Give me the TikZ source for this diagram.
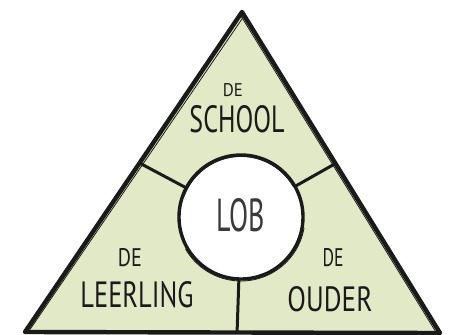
\documentclass[tikz,border=0pt]{standalone}
\usepackage{fontspec}
\setsansfont{PT Sans}
\usepackage{graphicx}
\usetikzlibrary{calc}
\definecolor{trifill}{HTML}{E2E9C6}
\definecolor{ink}{HTML}{1A1A1A}
\definecolor{lobink}{HTML}{3A3A3A}
\tikzset{
  outline/.style={draw=ink, line width=4.4pt, line join=round, line cap=round},
  sketch/.style={draw=ink, line width=0.8pt, line cap=round},
  spoke/.style={draw=ink, line width=3pt, line cap=round},
  label/.style={inner sep=0pt, text=ink, font=\sffamily},
}
\newcommand{\fitword}[3]{\resizebox{#1pt}{#2pt}{#3}}
\begin{document}
\begin{tikzpicture}[x=1pt, y=-1pt]
\useasboundingbox (0,0) rectangle (456,335);
\coordinate (A) at (242,12);
\coordinate (B) at (25,332);
\coordinate (C) at (440,333);
% triangle
\fill[trifill] (A) -- (B) -- (C) -- cycle;
\draw[outline] (A) -- (B) -- (C) -- cycle;
% sketchy second strokes
\draw[sketch] ($(A)+(2,4)$) -- ($(B)+(5,-2.5)$);
\draw[sketch] ($(A)+(-1,4)$) -- ($(C)+(-5,-2.5)$);
% spoke end points
\coordinate (pl) at ($(A)!0.472!(B)$);
\coordinate (pr) at ($(A)!0.472!(C)$);
\coordinate (pb) at ($(B)!0.511!(C)$);
% circle
\node[circle, minimum size=124pt, inner sep=0pt, fill=white, draw=ink, line width=3.4pt] (lob) at (241,217) {};
\draw[sketch] (241,217) ++(10:64) arc[start angle=10, end angle=150, radius=64];
\draw[sketch] (241,217) ++(200:60.5) arc[start angle=200, end angle=330, radius=60.5];
% spokes
\draw[spoke] (lob) -- (pl);
\draw[spoke] (lob) -- (pr);
\draw[spoke] (lob) -- (pb);
% labels
\node[label, text=lobink] (tlob) at (241,215) {\fitword{48}{33}{LOB}};
\node[label] (tde1) at (233,90) {\fitword{20}{13}{DE}};
\node[label] (tschool) at (237,119) {\fitword{95}{27}{SCHOOL}};
\node[label] (tde2) at (130,258) {\fitword{24}{18}{DE}};
\node[label] (tleer) at (137,295) {\fitword{113}{26}{LEERLING}};
\node[label] (tde3) at (333,258) {\fitword{21}{18}{DE}};
\node[label] (touder) at (330,299) {\fitword{85}{25}{OUDER}};
\end{tikzpicture}
\end{document}
